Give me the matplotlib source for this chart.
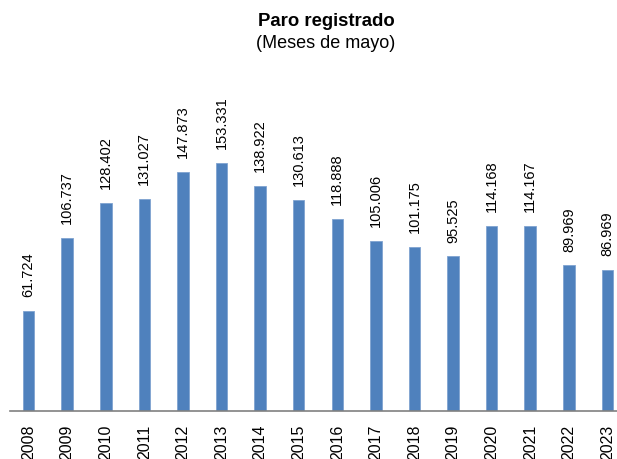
import matplotlib
matplotlib.use("Agg")
import matplotlib.pyplot as plt

years = ["2008", "2009", "2010", "2011", "2012", "2013", "2014", "2015",
         "2016", "2017", "2018", "2019", "2020", "2021", "2022", "2023"]
values = [61724, 106737, 128402, 131027, 147873, 153331, 138922, 130613,
          118888, 105006, 101175, 95525, 114168, 114167, 89969, 86969]
labels = ["61.724", "106.737", "128.402", "131.027", "147.873", "153.331",
          "138.922", "130.613", "118.888", "105.006", "101.175", "95.525",
          "114.168", "114.167", "89.969", "86.969"]

W, H = 617, 459
fig = plt.figure(figsize=(W / 100, H / 100), dpi=100)
ax_left = 10 / W
ax_bottom = (H - 411) / H
ax_top = 60 / H
ax = fig.add_axes([ax_left, ax_bottom, 616 / W, 1 - ax_bottom - ax_top])

x = list(range(len(years)))
ax.bar(x, values, width=0.3, color="#4F81BD", edgecolor="#7FA3D1", linewidth=0.6)
ax.set_xlim(-0.48, len(years) - 0.52)
ax.set_ylim(0, 351 * 618)

for xi, v, lab in zip(x, values, labels):
    ax.annotate(lab, (xi, v), xytext=(0, 10), textcoords="offset points",
                rotation=90, ha="center", va="bottom", fontsize=10.5,
                family="Liberation Sans", color="#000000")

for s in ["top", "right", "left"]:
    ax.spines[s].set_visible(False)
ax.spines["bottom"].set_color("#808080")
ax.spines["bottom"].set_linewidth(1.2)
ax.set_yticks([])
ax.set_xticks(x)
ax.set_xticklabels(years, rotation=90, fontsize=11.5, family="Liberation Sans")
ax.tick_params(axis="x", length=0, pad=10)

fig.text(326 / W, 1 - 21 / H, "Paro registrado", ha="center", va="center",
         fontsize=13.3, fontweight="bold", family="Liberation Sans")
fig.text(326 / W, 1 - 44 / H, "(Meses de mayo)", ha="center", va="center",
         fontsize=13, family="Liberation Sans")

fig.savefig("out.png", dpi=100)
